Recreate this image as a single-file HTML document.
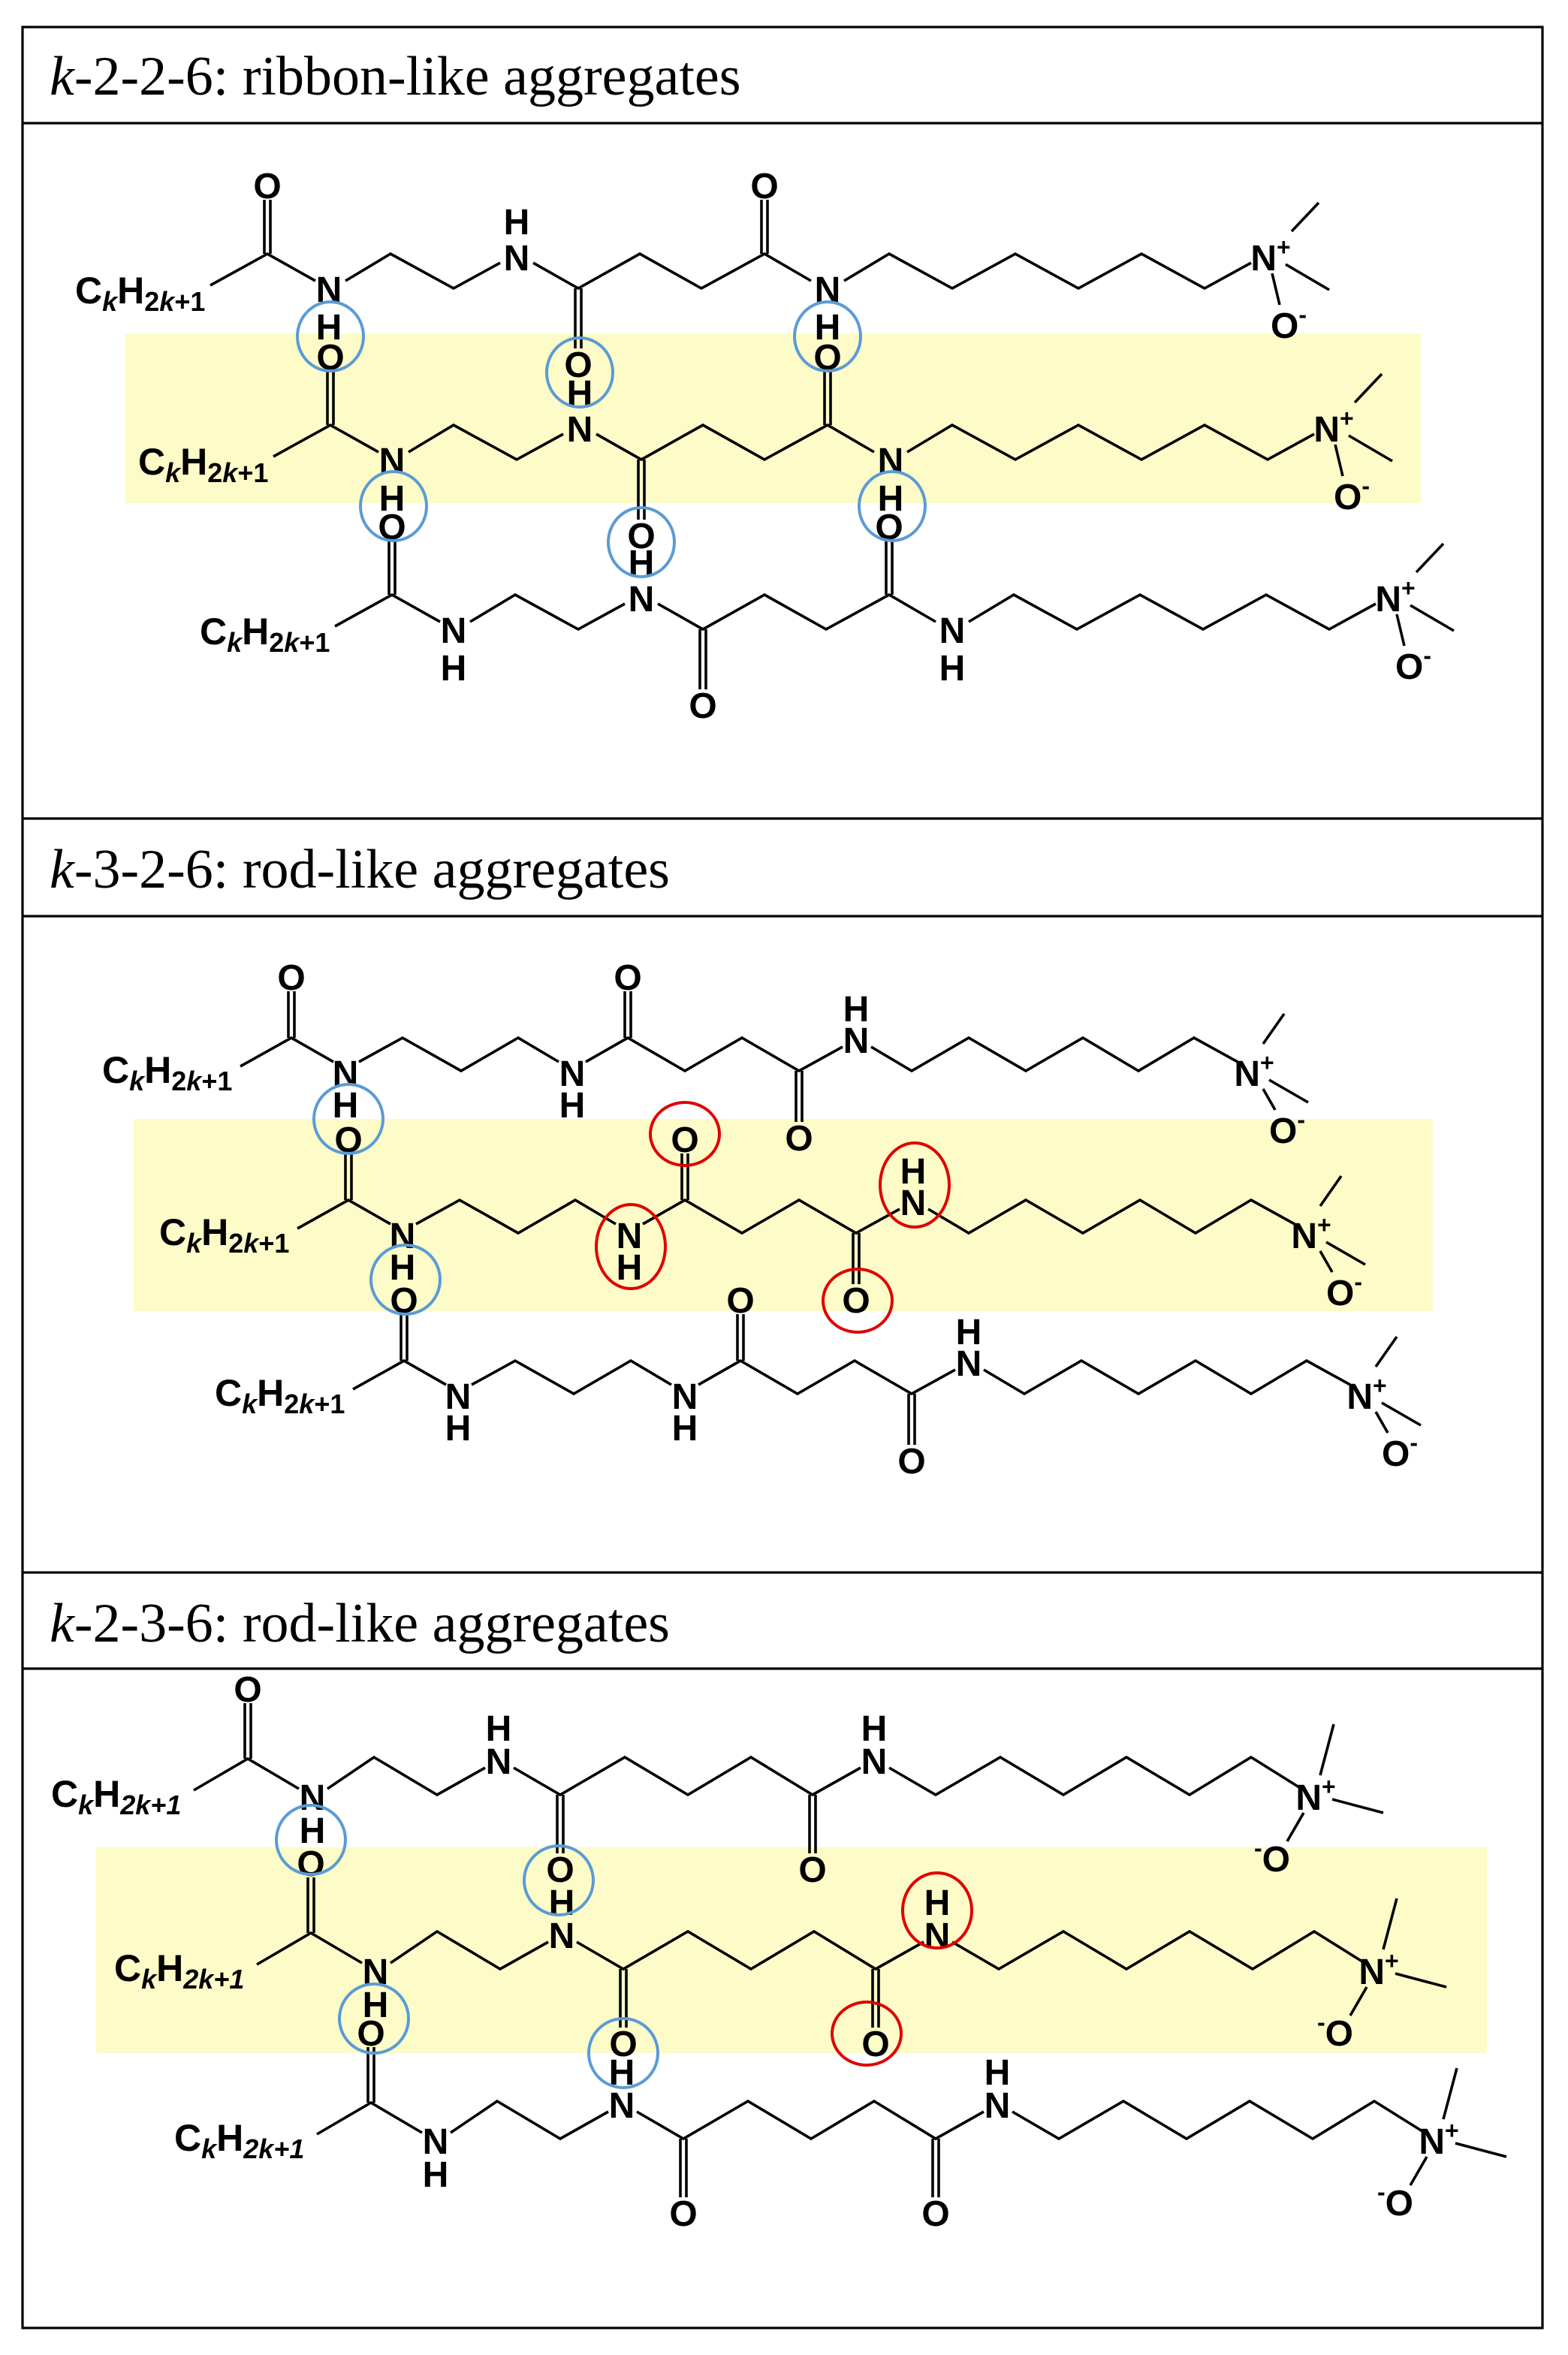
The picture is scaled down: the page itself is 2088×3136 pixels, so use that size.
<!DOCTYPE html>
<html><head><meta charset="utf-8"><style>
html,body{margin:0;padding:0;background:#fff}
svg{display:block}
.a{font-family:"Liberation Sans",Arial,sans-serif;font-weight:bold;font-size:24px;text-anchor:middle;fill:#000}
.l{font-family:"Liberation Sans",Arial,sans-serif;font-weight:bold;font-size:25px;fill:#000}
.h{font-family:"Liberation Serif",serif;font-size:37px;fill:#000}
.b polyline,.b line{stroke:#000;stroke-width:1.8;fill:none}
.bc{fill:none;stroke:#5b9bd5;stroke-width:2}
.rc{fill:none;stroke:#e00000;stroke-width:2}
</style></head><body>
<svg width="2088" height="3136" viewBox="0 0 1044 1568" xmlns="http://www.w3.org/2000/svg">
<rect x="15" y="18" width="1012" height="1532" fill="none" stroke="#000" stroke-width="1.6"/>
<line x1="15" y1="82" x2="1027" y2="82" stroke="#000" stroke-width="1.6"/>
<line x1="15" y1="545" x2="1027" y2="545" stroke="#000" stroke-width="1.6"/>
<line x1="15" y1="610" x2="1027" y2="610" stroke="#000" stroke-width="1.6"/>
<line x1="15" y1="1047" x2="1027" y2="1047" stroke="#000" stroke-width="1.6"/>
<line x1="15" y1="1111" x2="1027" y2="1111" stroke="#000" stroke-width="1.6"/>
<text class="h" x="33" y="63"><tspan font-style="italic">k</tspan>-2-2-6: ribbon-like aggregates</text>
<text class="h" x="33" y="591"><tspan font-style="italic">k</tspan>-3-2-6: rod-like aggregates</text>
<text class="h" x="33" y="1093"><tspan font-style="italic">k</tspan>-2-3-6: rod-like aggregates</text>

<rect x="83" y="222" width="863" height="113" fill="#fdfcc8"/>
<rect x="89" y="745" width="865" height="128" fill="#fdfcc8"/>
<rect x="64" y="1230" width="926" height="137" fill="#fdfcc8"/>

<!-- PANEL 1 -->
<g>
<g class="b">
<polyline points="140,190 178,169 210,187"/>
<polyline points="230,187 260,169 302,192 333,175"/>
<polyline points="355,175 385,192 426,169 467,192 509,169 540,187"/>
<polyline points="562,187 592,169 634,192 676,169 718,192 760,169 802,192 833,175"/>
<line x1="176" y1="133" x2="176" y2="169"/><line x1="180" y1="133" x2="180" y2="169"/>
<line x1="383" y1="192" x2="383" y2="232"/><line x1="387" y1="192" x2="387" y2="232"/>
<line x1="507" y1="133" x2="507" y2="169"/><line x1="511" y1="133" x2="511" y2="169"/>
<line x1="860" y1="154" x2="878" y2="135"/><line x1="856" y1="176" x2="885" y2="193"/><line x1="847" y1="182" x2="852" y2="203"/>
</g>
<text class="l" x="50" y="202">C<tspan font-size="18" font-style="italic" dy="5">k</tspan><tspan dy="-5">H</tspan><tspan font-size="18" dy="5">2<tspan font-style="italic">k</tspan>+1</tspan></text>
<text class="a" x="178" y="132">O</text><text class="a" x="219" y="201">N</text><text class="a" x="219" y="226">H</text>
<text class="a" x="344" y="180">N</text><text class="a" x="344" y="156">H</text><text class="a" x="385" y="251">O</text>
<text class="a" x="509" y="132">O</text><text class="a" x="551" y="201">N</text><text class="a" x="551" y="226">H</text>
<text class="a" x="846" y="180">N<tspan font-size="16" dy="-10">+</tspan></text>
<text class="a" x="858" y="225">O<tspan font-size="16" dy="-10">-</tspan></text>
</g>
<g transform="translate(42,114)">
<g class="b">
<polyline points="140,190 178,169 210,187"/>
<polyline points="230,187 260,169 302,192 333,175"/>
<polyline points="355,175 385,192 426,169 467,192 509,169 540,187"/>
<polyline points="562,187 592,169 634,192 676,169 718,192 760,169 802,192 833,175"/>
<line x1="176" y1="133" x2="176" y2="169"/><line x1="180" y1="133" x2="180" y2="169"/>
<line x1="383" y1="192" x2="383" y2="232"/><line x1="387" y1="192" x2="387" y2="232"/>
<line x1="507" y1="133" x2="507" y2="169"/><line x1="511" y1="133" x2="511" y2="169"/>
<line x1="860" y1="154" x2="878" y2="135"/><line x1="856" y1="176" x2="885" y2="193"/><line x1="847" y1="182" x2="852" y2="203"/>
</g>
<text class="l" x="50" y="202">C<tspan font-size="18" font-style="italic" dy="5">k</tspan><tspan dy="-5">H</tspan><tspan font-size="18" dy="5">2<tspan font-style="italic">k</tspan>+1</tspan></text>
<text class="a" x="178" y="132">O</text><text class="a" x="219" y="201">N</text><text class="a" x="219" y="226">H</text>
<text class="a" x="344" y="180">N</text><text class="a" x="344" y="156">H</text><text class="a" x="385" y="251">O</text>
<text class="a" x="509" y="132">O</text><text class="a" x="551" y="201">N</text><text class="a" x="551" y="226">H</text>
<text class="a" x="846" y="180">N<tspan font-size="16" dy="-10">+</tspan></text>
<text class="a" x="858" y="225">O<tspan font-size="16" dy="-10">-</tspan></text>
</g>
<g transform="translate(83,227)">
<g class="b">
<polyline points="140,190 178,169 210,187"/>
<polyline points="230,187 260,169 302,192 333,175"/>
<polyline points="355,175 385,192 426,169 467,192 509,169 540,187"/>
<polyline points="562,187 592,169 634,192 676,169 718,192 760,169 802,192 833,175"/>
<line x1="176" y1="133" x2="176" y2="169"/><line x1="180" y1="133" x2="180" y2="169"/>
<line x1="383" y1="192" x2="383" y2="232"/><line x1="387" y1="192" x2="387" y2="232"/>
<line x1="507" y1="133" x2="507" y2="169"/><line x1="511" y1="133" x2="511" y2="169"/>
<line x1="860" y1="154" x2="878" y2="135"/><line x1="856" y1="176" x2="885" y2="193"/><line x1="847" y1="182" x2="852" y2="203"/>
</g>
<text class="l" x="50" y="202">C<tspan font-size="18" font-style="italic" dy="5">k</tspan><tspan dy="-5">H</tspan><tspan font-size="18" dy="5">2<tspan font-style="italic">k</tspan>+1</tspan></text>
<text class="a" x="178" y="132">O</text><text class="a" x="219" y="201">N</text><text class="a" x="219" y="226">H</text>
<text class="a" x="344" y="180">N</text><text class="a" x="344" y="156">H</text><text class="a" x="385" y="251">O</text>
<text class="a" x="509" y="132">O</text><text class="a" x="551" y="201">N</text><text class="a" x="551" y="226">H</text>
<text class="a" x="846" y="180">N<tspan font-size="16" dy="-10">+</tspan></text>
<text class="a" x="858" y="225">O<tspan font-size="16" dy="-10">-</tspan></text>
</g>
<ellipse class="bc" cx="220" cy="224" rx="22" ry="23"/>
<ellipse class="bc" cx="386" cy="248" rx="22" ry="23"/>
<ellipse class="bc" cx="551" cy="224" rx="22" ry="23"/>
<ellipse class="bc" cx="262" cy="337" rx="22" ry="23"/>
<ellipse class="bc" cx="427" cy="361" rx="22" ry="23"/>
<ellipse class="bc" cx="594" cy="337" rx="22" ry="23"/>

<!-- PANEL 2 -->
<g>
<g class="b">
<polyline points="160,710 194,691 222,707"/>
<polyline points="239,707 268,691 307,713 345,691 372,707"/>
<polyline points="390,707 418,691 456,713 494,691 532,713 561,697"/>
<polyline points="580,697 607,713 645,691 683,713 721,691 758,713 795,691 824,707"/>
<line x1="192" y1="660" x2="192" y2="691"/><line x1="196" y1="660" x2="196" y2="691"/>
<line x1="416" y1="660" x2="416" y2="691"/><line x1="420" y1="660" x2="420" y2="691"/>
<line x1="530" y1="713" x2="530" y2="747"/><line x1="534" y1="713" x2="534" y2="747"/>
<line x1="841" y1="695" x2="855" y2="675"/><line x1="845" y1="719" x2="871" y2="734"/><line x1="841" y1="725" x2="849" y2="739"/>
</g>
<text class="l" x="68" y="721">C<tspan font-size="18" font-style="italic" dy="5">k</tspan><tspan dy="-5">H</tspan><tspan font-size="18" dy="5">2<tspan font-style="italic">k</tspan>+1</tspan></text>
<text class="a" x="194" y="659">O</text><text class="a" x="230" y="723">N</text><text class="a" x="230" y="744">H</text>
<text class="a" x="381" y="723">N</text><text class="a" x="381" y="744">H</text><text class="a" x="418" y="659">O</text>
<text class="a" x="532" y="766">O</text><text class="a" x="570" y="701">N</text><text class="a" x="570" y="680">H</text>
<text class="a" x="835" y="723">N<tspan font-size="16" dy="-10">+</tspan></text>
<text class="a" x="857" y="761">O<tspan font-size="16" dy="-10">-</tspan></text>
</g>
<g transform="translate(38,108)">
<g class="b">
<polyline points="160,710 194,691 222,707"/>
<polyline points="239,707 268,691 307,713 345,691 372,707"/>
<polyline points="390,707 418,691 456,713 494,691 532,713 561,697"/>
<polyline points="580,697 607,713 645,691 683,713 721,691 758,713 795,691 824,707"/>
<line x1="192" y1="660" x2="192" y2="691"/><line x1="196" y1="660" x2="196" y2="691"/>
<line x1="416" y1="660" x2="416" y2="691"/><line x1="420" y1="660" x2="420" y2="691"/>
<line x1="530" y1="713" x2="530" y2="747"/><line x1="534" y1="713" x2="534" y2="747"/>
<line x1="841" y1="695" x2="855" y2="675"/><line x1="845" y1="719" x2="871" y2="734"/><line x1="841" y1="725" x2="849" y2="739"/>
</g>
<text class="l" x="68" y="721">C<tspan font-size="18" font-style="italic" dy="5">k</tspan><tspan dy="-5">H</tspan><tspan font-size="18" dy="5">2<tspan font-style="italic">k</tspan>+1</tspan></text>
<text class="a" x="194" y="659">O</text><text class="a" x="230" y="723">N</text><text class="a" x="230" y="744">H</text>
<text class="a" x="381" y="723">N</text><text class="a" x="381" y="744">H</text><text class="a" x="418" y="659">O</text>
<text class="a" x="532" y="766">O</text><text class="a" x="570" y="701">N</text><text class="a" x="570" y="680">H</text>
<text class="a" x="835" y="723">N<tspan font-size="16" dy="-10">+</tspan></text>
<text class="a" x="857" y="761">O<tspan font-size="16" dy="-10">-</tspan></text>
</g>
<g transform="translate(75,215)">
<g class="b">
<polyline points="160,710 194,691 222,707"/>
<polyline points="239,707 268,691 307,713 345,691 372,707"/>
<polyline points="390,707 418,691 456,713 494,691 532,713 561,697"/>
<polyline points="580,697 607,713 645,691 683,713 721,691 758,713 795,691 824,707"/>
<line x1="192" y1="660" x2="192" y2="691"/><line x1="196" y1="660" x2="196" y2="691"/>
<line x1="416" y1="660" x2="416" y2="691"/><line x1="420" y1="660" x2="420" y2="691"/>
<line x1="530" y1="713" x2="530" y2="747"/><line x1="534" y1="713" x2="534" y2="747"/>
<line x1="841" y1="695" x2="855" y2="675"/><line x1="845" y1="719" x2="871" y2="734"/><line x1="841" y1="725" x2="849" y2="739"/>
</g>
<text class="l" x="68" y="721">C<tspan font-size="18" font-style="italic" dy="5">k</tspan><tspan dy="-5">H</tspan><tspan font-size="18" dy="5">2<tspan font-style="italic">k</tspan>+1</tspan></text>
<text class="a" x="194" y="659">O</text><text class="a" x="230" y="723">N</text><text class="a" x="230" y="744">H</text>
<text class="a" x="381" y="723">N</text><text class="a" x="381" y="744">H</text><text class="a" x="418" y="659">O</text>
<text class="a" x="532" y="766">O</text><text class="a" x="570" y="701">N</text><text class="a" x="570" y="680">H</text>
<text class="a" x="835" y="723">N<tspan font-size="16" dy="-10">+</tspan></text>
<text class="a" x="857" y="761">O<tspan font-size="16" dy="-10">-</tspan></text>
</g>
<ellipse class="bc" cx="232" cy="745" rx="23" ry="23"/>
<ellipse class="bc" cx="270" cy="852" rx="23" ry="23"/>
<ellipse class="rc" cx="456" cy="755" rx="23" ry="21"/>
<ellipse class="rc" cx="420" cy="830" rx="23" ry="28"/>
<ellipse class="rc" cx="609" cy="789" rx="23" ry="28"/>
<ellipse class="rc" cx="571" cy="866" rx="23" ry="21"/>

<!-- PANEL 3 -->
<g>
<g class="b">
<polyline points="129,1192 165,1171 199,1191"/>
<polyline points="218,1191 249,1170 291,1195 323,1177"/>
<polyline points="342,1177 373,1195 416,1170 458,1195 500,1170 541,1195 573,1177"/>
<polyline points="592,1177 623,1195 666,1170 708,1195 750,1170 792,1195 833,1170 865,1190"/>
<line x1="163" y1="1134" x2="163" y2="1171"/><line x1="167" y1="1134" x2="167" y2="1171"/>
<line x1="371" y1="1195" x2="371" y2="1234"/><line x1="375" y1="1195" x2="375" y2="1234"/>
<line x1="539" y1="1195" x2="539" y2="1234"/><line x1="543" y1="1195" x2="543" y2="1234"/>
<line x1="879" y1="1182" x2="888" y2="1148"/><line x1="887" y1="1198" x2="921" y2="1207"/><line x1="868" y1="1207" x2="857" y2="1226"/>
</g>
<text class="l" x="34" y="1203" font-style="italic"><tspan font-style="normal">C</tspan><tspan font-size="18" dy="5">k</tspan><tspan dy="-5" font-style="normal">H</tspan><tspan font-size="18" dy="5">2k+1</tspan></text>
<text class="a" x="165" y="1133">O</text><text class="a" x="208" y="1205">N</text><text class="a" x="208" y="1227">H</text>
<text class="a" x="332" y="1181">N</text><text class="a" x="332" y="1159">H</text><text class="a" x="373" y="1253">O</text>
<text class="a" x="541" y="1253">O</text><text class="a" x="582" y="1181">N</text><text class="a" x="582" y="1159">H</text>
<text class="a" x="876" y="1205">N<tspan font-size="16" dy="-10">+</tspan></text>
<text class="a" x="847" y="1246"><tspan font-size="16" dy="-10">-</tspan><tspan dy="10">O</tspan></text>
</g>
<g transform="translate(42,116)">
<g class="b">
<polyline points="129,1192 165,1171 199,1191"/>
<polyline points="218,1191 249,1170 291,1195 323,1177"/>
<polyline points="342,1177 373,1195 416,1170 458,1195 500,1170 541,1195 573,1177"/>
<polyline points="592,1177 623,1195 666,1170 708,1195 750,1170 792,1195 833,1170 865,1190"/>
<line x1="163" y1="1134" x2="163" y2="1171"/><line x1="167" y1="1134" x2="167" y2="1171"/>
<line x1="371" y1="1195" x2="371" y2="1234"/><line x1="375" y1="1195" x2="375" y2="1234"/>
<line x1="539" y1="1195" x2="539" y2="1234"/><line x1="543" y1="1195" x2="543" y2="1234"/>
<line x1="879" y1="1182" x2="888" y2="1148"/><line x1="887" y1="1198" x2="921" y2="1207"/><line x1="868" y1="1207" x2="857" y2="1226"/>
</g>
<text class="l" x="34" y="1203" font-style="italic"><tspan font-style="normal">C</tspan><tspan font-size="18" dy="5">k</tspan><tspan dy="-5" font-style="normal">H</tspan><tspan font-size="18" dy="5">2k+1</tspan></text>
<text class="a" x="165" y="1133">O</text><text class="a" x="208" y="1205">N</text><text class="a" x="208" y="1227">H</text>
<text class="a" x="332" y="1181">N</text><text class="a" x="332" y="1159">H</text><text class="a" x="373" y="1253">O</text>
<text class="a" x="541" y="1253">O</text><text class="a" x="582" y="1181">N</text><text class="a" x="582" y="1159">H</text>
<text class="a" x="876" y="1205">N<tspan font-size="16" dy="-10">+</tspan></text>
<text class="a" x="847" y="1246"><tspan font-size="16" dy="-10">-</tspan><tspan dy="10">O</tspan></text>
</g>
<g transform="translate(82,229)">
<g class="b">
<polyline points="129,1192 165,1171 199,1191"/>
<polyline points="218,1191 249,1170 291,1195 323,1177"/>
<polyline points="342,1177 373,1195 416,1170 458,1195 500,1170 541,1195 573,1177"/>
<polyline points="592,1177 623,1195 666,1170 708,1195 750,1170 792,1195 833,1170 865,1190"/>
<line x1="163" y1="1134" x2="163" y2="1171"/><line x1="167" y1="1134" x2="167" y2="1171"/>
<line x1="371" y1="1195" x2="371" y2="1234"/><line x1="375" y1="1195" x2="375" y2="1234"/>
<line x1="539" y1="1195" x2="539" y2="1234"/><line x1="543" y1="1195" x2="543" y2="1234"/>
<line x1="879" y1="1182" x2="888" y2="1148"/><line x1="887" y1="1198" x2="921" y2="1207"/><line x1="868" y1="1207" x2="857" y2="1226"/>
</g>
<text class="l" x="34" y="1203" font-style="italic"><tspan font-style="normal">C</tspan><tspan font-size="18" dy="5">k</tspan><tspan dy="-5" font-style="normal">H</tspan><tspan font-size="18" dy="5">2k+1</tspan></text>
<text class="a" x="165" y="1133">O</text><text class="a" x="208" y="1205">N</text><text class="a" x="208" y="1227">H</text>
<text class="a" x="332" y="1181">N</text><text class="a" x="332" y="1159">H</text><text class="a" x="373" y="1253">O</text>
<text class="a" x="541" y="1253">O</text><text class="a" x="582" y="1181">N</text><text class="a" x="582" y="1159">H</text>
<text class="a" x="876" y="1205">N<tspan font-size="16" dy="-10">+</tspan></text>
<text class="a" x="847" y="1246"><tspan font-size="16" dy="-10">-</tspan><tspan dy="10">O</tspan></text>
</g>
<ellipse class="bc" cx="207" cy="1225" rx="23" ry="23"/>
<ellipse class="bc" cx="372" cy="1252" rx="23" ry="23"/>
<ellipse class="bc" cx="249" cy="1344" rx="23" ry="23"/>
<ellipse class="bc" cx="415" cy="1367" rx="23" ry="23"/>
<ellipse class="rc" cx="624" cy="1272" rx="23" ry="25"/>
<ellipse class="rc" cx="577" cy="1354" rx="23" ry="21"/>
</svg>
</body></html>
